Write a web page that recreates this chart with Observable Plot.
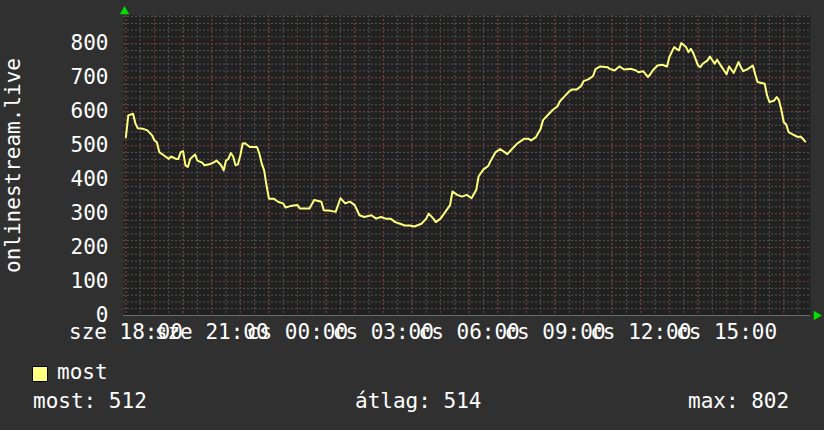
<!DOCTYPE html>
<html>
<head>
<meta charset="utf-8">
<script src="https://cdn.jsdelivr.net/npm/d3@7"></script>
<script src="https://cdn.jsdelivr.net/npm/@observablehq/plot@0.6"></script>
<style>
  html, body { margin: 0; padding: 0; background: #303030; }
  #wrap { position: relative; width: 824px; height: 430px; background: #303030; overflow: hidden; font-family: "DejaVu Sans Mono", monospace; color: #fff; }
  #chart svg { display: block; }
  .lg { position: absolute; font-size: 21px; line-height: 21px; white-space: pre; color: #fff; }
  #swatch { position: absolute; width: 14px; height: 14px; border: 1px solid #000; }
</style>
</head>
<body>
<div id="wrap">
  <div id="chart"></div>
  <div id="swatch"></div>
  <div class="lg" id="lgName"></div>
  <div class="lg" id="lgCur"></div>
  <div class="lg" id="lgAvg"></div>
  <div class="lg" id="lgMax"></div>
</div>
<script>
// ---- data (minutes after "sze 18:00") ----
const minutes = [0,5,15,20,25,35,45,55,60,65,70,80,90,95,105,110,115,120,125,130,135,145,150,160,165,175,185,190,200,205,210,215,220,225,230,235,240,245,250,260,275,280,285,290,295,300,310,320,330,335,345,360,365,385,395,410,415,430,440,450,460,470,480,490,500,515,525,535,545,555,565,575,585,595,605,620,630,635,645,650,660,670,680,685,695,705,715,725,735,740,750,760,765,775,785,795,800,810,820,825,835,845,850,860,870,875,885,895,905,910,920,930,935,945,955,960,970,980,985,995,1010,1015,1025,1035,1045,1060,1070,1075,1085,1095,1100,1105,1115,1125,1135,1140,1150,1160,1165,1175,1180,1185,1190,1200,1205,1210,1220,1225,1235,1240,1250,1260,1265,1275,1285,1290,1295,1305,1315,1320,1325,1340,1345,1350,1360,1365,1370,1375,1380,1385,1390,1400,1410,1415,1420,1425];
const values = [525,589,594,565,551,550,545,530,515,510,481,471,461,468,461,461,481,484,442,437,461,474,456,450,442,445,451,456,442,427,456,461,478,468,442,445,471,506,507,496,496,476,447,427,383,344,344,334,330,318,322,325,315,315,340,335,310,308,305,345,330,335,325,295,290,295,285,290,285,285,275,270,265,265,262,270,285,300,285,275,285,305,325,365,355,350,355,345,370,410,430,440,455,480,490,480,475,490,505,510,520,520,515,525,550,575,590,605,615,630,645,660,665,665,675,690,695,705,725,733,731,726,721,733,724,726,721,716,719,702,710,721,736,738,733,761,790,780,802,790,775,785,773,736,731,741,751,762,741,753,731,710,733,714,746,731,719,726,736,710,687,682,647,628,633,643,633,604,569,562,540,532,525,527,520,512];

const xTickMinutes = [0,180,360,540,720,900,1080,1260];
const xTickLabels = ["sze 18:00","sze 21:00","cs 00:00","cs 03:00","cs 06:00","cs 09:00","cs 12:00","cs 15:00"];
const yTicks = [0,100,200,300,400,500,600,700,800];
const yLabel = "onlinestream.live";
const seriesName = "most";
const statLabels = ["most","átlag","max"];
const statValues = [512,514,802];

// ---- chart ----
const data = minutes.map((m, i) => ({m, v: values[i]}));
const xDomain = [-5, 1436];
const yDomain = [0, 883];
const minorX = d3.range(0, 1436, 30);
const majorX = d3.range(0, 1436, 60);
const minorY = d3.range(0, 881, 20);
const majorY = d3.range(0, 881, 100);

const FONT = "DejaVu Sans Mono";
const lineColor = "#ffff80";

const chart = Plot.plot({
  width: 824,
  height: 340,
  marginLeft: 123,
  marginRight: 14,
  marginTop: 15,
  marginBottom: 25,
  style: { background: "transparent", color: "#ffffff", fontFamily: FONT, fontSize: "21px", overflow: "visible" },
  x: { domain: xDomain },
  y: { domain: yDomain },
  marks: [
    Plot.frame({ fill: "#212121", stroke: null }),
    Plot.ruleY(minorY, { stroke: "#555555", strokeDasharray: "2,2", strokeWidth: 1 }),
    Plot.ruleX(minorX, { stroke: "#555555", strokeDasharray: "2,2", strokeWidth: 1 }),
    Plot.ruleY(majorY, { stroke: "#7a3838", strokeDasharray: "2,2", strokeWidth: 1 }),
    Plot.ruleX(majorX, { stroke: "#7a3838", strokeDasharray: "2,2", strokeWidth: 1 }),
    Plot.ruleY([0], { stroke: "#6e6e6e", strokeWidth: 1 }),
    Plot.axisY({ ticks: yTicks, tickSize: 0, tickPadding: 15, label: null, fill: "#ffffff" }),
    Plot.axisX({ ticks: xTickMinutes, tickFormat: (d) => xTickLabels[xTickMinutes.indexOf(d)], tickSize: 0, tickPadding: 9, label: null, fill: "#ffffff" }),
    Plot.text([yLabel], { text: d => d, frameAnchor: "left", rotate: -90, dx: -110, fill: "#ffffff", fontSize: 21, textAnchor: "middle", lineAnchor: "middle" }),
    Plot.line(data, { x: "m", y: "v", curve: "linear", stroke: lineColor, strokeWidth: 2 }),
    Plot.dot([0], { frameAnchor: "top-left", symbol: "triangle", r: 3.5, fill: "#00dd00", stroke: null, dx: 1, dy: -4 }),
    Plot.dot([0], { frameAnchor: "bottom-right", symbol: "triangle", r: 3.5, fill: "#00dd00", stroke: null, rotate: 90, dx: 6, dy: 0 })
  ]
});
document.getElementById("chart").appendChild(chart);

// ---- legend ----
const sw = document.getElementById("swatch");
sw.style.left = "32px"; sw.style.top = "366px"; sw.style.background = lineColor;
function place(id, text, left, baseline) {
  const el = document.getElementById(id);
  el.textContent = text;
  el.style.left = left + "px";
  el.style.top = (baseline - 18) + "px";
}
place("lgName", seriesName, 57, 380);
place("lgCur", `${statLabels[0]}: ${statValues[0]}`, 33, 409);
place("lgAvg", `${statLabels[1]}: ${statValues[1]}`, 355, 409);
place("lgMax", `${statLabels[2]}: ${statValues[2]}`, 688, 409);
</script>
</body>
</html>
